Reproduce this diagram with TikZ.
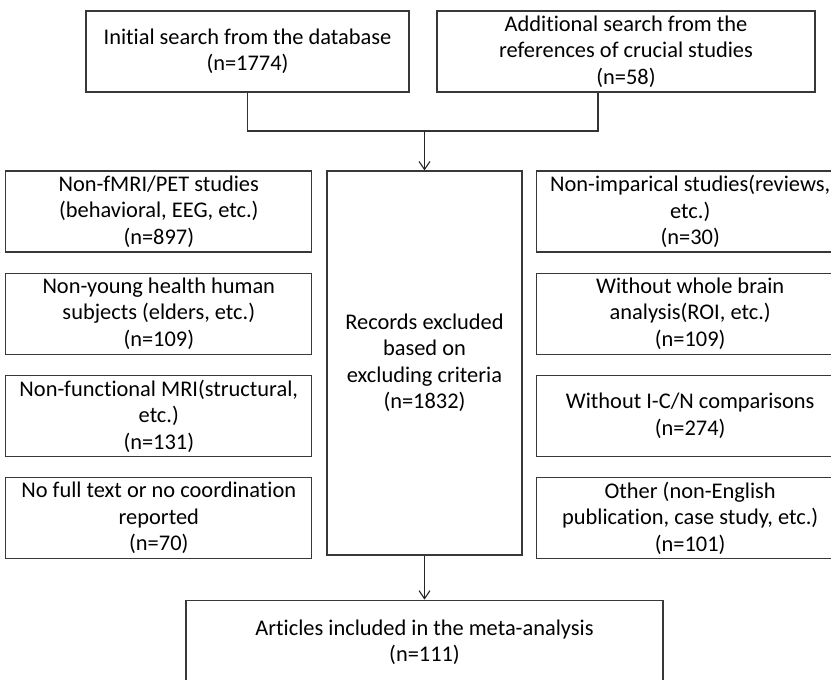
\documentclass[tikz,border=0pt]{standalone}
\usepackage{fontspec}
\setmainfont{Carlito}[Ligatures=NoCommon]
\usetikzlibrary{positioning,arrows.meta}

\begin{document}
\begin{tikzpicture}[
        x=1pt, y=-1pt,
        node distance=20pt,
        block/.style={
            draw=black!78,
            line width=1.2pt,
            minimum width=306pt,
            minimum height=81pt,
            inner sep=0pt,
            align=center,
            font=\fontsize{22.4}{26.5}\selectfont
        },
        ray/.style={
            -{Straight Barb[length=8pt,width=11pt]},
            draw=black!85,
            line width=1.1pt
        },
        link/.style={
            draw=black!80,
            line width=1.2pt
        }
    ]
        \clip (0,0) rectangle (831,680);

        % --- 1. Recherches initiales ---
        \node[block, minimum width=323pt] (search) at (247.5,51.5) {
            Initial search from the database\\
            (n=1774)
        };
        \node[block, minimum width=378pt] (extra) at (626,51.5) {
            Additional search from the\\
            references of crucial studies\\
            (n=58)
        };

        % --- 2. Exclusions ---
        \node[block, minimum width=195pt, minimum height=384pt] (excl) at (424.5,363) {
            Records excluded\\
            based on\\
            excluding criteria\\
            (n=1832)
        };

        % colonne de gauche
        \node[block, anchor=north east] (nofmri) at ([xshift=-14pt]excl.north west) {
            Non-fMRI/PET studies\\
            (behavioral, EEG, etc.)\\
            (n=897)
        };
        \node[block, below=of nofmri] (noyoung) {
            Non-young health human\\
            subjects (elders, etc.)\\
            (n=109)
        };
        \node[block, below=of noyoung] (nofunc) {
            Non-functional MRI(structural,\\
            etc.)\\
            (n=131)
        };
        \node[block, below=of nofunc] (nofull) {
            No full text or no coordination\\
            reported\\
            (n=70)
        };

        % colonne de droite
        \node[block, anchor=north west, minimum width=308pt] (noemp) at ([xshift=13pt]excl.north east) {
            Non-imparical studies(reviews,\\
            etc.)\\
            (n=30)
        };
        \node[block, minimum width=308pt, below=of noemp] (nowhole) {
            Without whole brain\\
            analysis(ROI, etc.)\\
            (n=109)
        };
        \node[block, minimum width=308pt, below=of nowhole] (nocomp) {
            Without I-C/N comparisons\\
            (n=274)
        };
        \node[block, minimum width=308pt, below=of nocomp] (other) {
            Other (non-English\\
            publication, case study, etc.)\\
            (n=101)
        };

        % --- 3. Articles retenus ---
        \node[block, minimum width=477pt, minimum height=84pt, below=44pt of excl] (incl) {
            Articles included in the meta-analysis\\
            (n=111)
        };

        % --- Liaisons ---
        \coordinate (merge) at (424.5,131);
        \draw[link] (search.south) |- (merge) -| ([xshift=-28pt]extra.south);
        \draw[ray] (merge) -- (excl.north);
        \draw[ray] (excl.south) -- (incl.north);
    \end{tikzpicture}
\end{document}
